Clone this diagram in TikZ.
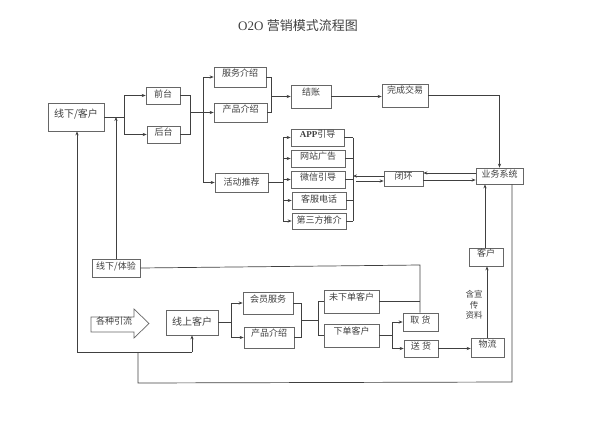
\documentclass[tikz,border=0pt]{standalone}
\usepackage{fontspec}
\setmainfont{Liberation Serif}
\newfontfamily\cjk{Noto Sans CJK SC}
\usetikzlibrary{arrows.meta}
\tikzset{
  box/.style={draw=black!60, fill=white, line width=0.7pt, inner sep=0pt,
    text height=7pt, font=\cjk\fontsize{9}{10}\selectfont, text=black!75},
  ln/.style={draw=black!75, line width=0.7pt},
  arr/.style={ln, -{Stealth[length=4pt,width=3.2pt]}},
  plain/.style={font=\cjk\fontsize{9}{10}\selectfont, text=black!75, inner sep=0pt},
}
\newcommand\bx[8][]{\node[box,minimum width={#5pt-#3pt},minimum height={#6pt-#4pt},text depth=#7pt,#1] (#2) at ({(#3+#5)/2},{(#4+#6)/2}) {#8};}
\begin{document}
\begin{tikzpicture}[x=1pt,y=-1pt]
\useasboundingbox (0,0) rectangle (600,423);
\node[plain, font=\fontsize{13}{15}\selectfont] (title) at (298,26) {O2O {\cjk 营销模式流程图}};
% boxes
\bx[font=\cjk\fontsize{10}{11}\selectfont]{xk}{48}{103}{104}{131}{7}{线下/客户}
\bx{qt}{146}{87}{180}{104}{3.5}{前台}
\bx{ht}{147}{126}{180}{143}{6}{后台}
\bx{fw}{214}{67}{266}{87}{8}{服务介绍}
\bx{cp}{214}{103}{267}{122}{7}{产品介绍}
\bx{hd}{215}{173}{268}{192}{0.4}{活动推荐}
\bx{jz}{291}{85}{331}{108}{10}{结账}
\bx{wc}{382}{84}{428}{107}{11}{完成交易}
\bx{app}{291}{129}{344}{146}{7}{{\rmfamily\bfseries APP}引导}
\bx{wz}{291}{150}{345}{167}{5.5}{网站广告}
\bx{wx}{291}{171}{345}{188}{5.5}{微信引导}
\bx{kf}{292}{192}{346}{209}{4}{客服电话}
\bx{dsf}{292}{213}{346}{229}{2.4}{第三方推介}
\bx{bh}{384}{171}{423}{186}{5}{闭环}
\bx{yw}{476}{168}{523}{184}{5}{业务系统}
\bx{kh}{469}{248}{503}{266}{9}{客户}
\bx{wl}{471}{338}{504}{357}{7}{物流}
\bx{sh}{404}{340}{438}{357}{5}{送 货}
\bx{qh}{403}{313}{438}{331}{5}{取 货}
\bx{xd}{324}{324}{379}{347}{9}{下单客户}
\bx{wxd}{324}{290}{379}{313}{9}{未下单客户}
\bx{hy}{243}{292}{293}{314}{9}{会员服务}
\bx{cp2}{244}{327}{294}{348}{9}{产品介绍}
\bx[font=\cjk\fontsize{10}{11}\selectfont]{xs}{166}{310}{218}{335}{0.4}{线上客户}
\bx{ty}{92}{259}{140}{277}{5}{线下/体验}
% big arrow
\draw[draw=black!60, fill=white, line width=0.7pt] (91,317) -- (134,317) -- (134,309) -- (149,323.5) -- (134,338) -- (134,332) -- (91,332) -- cycle;
\node[plain] (yl) at (114,321) {各种引流};
\node[plain, font=\cjk\fontsize{8.5}{10.5}\selectfont, align=center] (lbl) at (474,305) {含宣\\传\\资料};
% coordinates
\coordinate (j1) at (124,117);
\coordinate (j2) at (190,112.5);
\coordinate (b1) at (203,0);
\coordinate (j3) at (271,96.5);
\coordinate (b2) at (283,0);
\coordinate (b3) at (353,0);
\coordinate (c1) at (353,176);
\coordinate (c2) at (356,181);
\coordinate (c3) at (0,173);
\coordinate (c4) at (0,180);
\coordinate (c5) at (485,0);
\coordinate (c6) at (487,0);
\coordinate (c7) at (512,382);
\coordinate (c8) at (138,383);
\coordinate (c9) at (138,352);
\coordinate (c10) at (77,352);
\coordinate (c11) at (192,352);
\coordinate (c12) at (420,265);
\coordinate (c13) at (231,0);
\coordinate (c14) at (301,320);
\coordinate (c15) at (318,0);
\coordinate (c16) at (392,0);
% top part
\draw[ln] (xk.east) -- (j1);
\draw[ln] (j1 |- qt) -- (j1 |- ht);
\draw[arr] (j1 |- qt) -- (qt.west);
\draw[arr] (j1 |- ht) -- (ht.west);
\draw[arr] (ty.north) -- (ty.north |- j1);
\draw[ln] (qt.east) -| (j2 |- ht.east) -- (ht.east);
\draw[ln] (b1 |- fw) -- (b1 |- hd);
\draw[arr] (b1 |- fw) -- (fw.west);
\draw[arr] (j2) -- (cp.west);
\draw[arr] (b1 |- hd) -- (hd.west);
\draw[ln] (fw.east) -| (j3 |- cp.east) -- (cp.east);
\draw[arr] (j3) -- (jz.west);
\draw[arr] (jz.east) -- (jz.east -| wc.west);
\draw[arr] (wc.east) -| (yw.north);
% activities
\draw[ln] (hd.east) -- (hd.east -| b2);
\draw[ln] (b2 |- app) -- (b2 |- dsf);
\foreach \n in {app,wz,wx,kf,dsf}{
  \draw[arr] (b2 |- \n) -- (\n.west);
  \draw[ln] (\n.east) -- (\n.east -| b3);
}
\draw[ln] (b3 |- app) -- (b3 |- dsf);
\draw[arr] (bh.west |- c1) -- (c1);
\draw[arr] (c2) -- (bh.west |- c2);
\draw[arr] (yw.west |- c3) -- (bh.east |- c3);
\draw[arr] (bh.east |- c4) -- (yw.west |- c4);
% right column
\draw[arr] (kh.north -| c5) -- (yw.south -| c5);
\draw[arr] (wl.north -| c6) -- (kh.south -| c6);
\draw[arr] (sh.east) -- (sh.east -| wl.west);
% feedback loop
\draw[ln] (yw.south -| c7) -- (c7) -- (c8) -- (c9);
\draw[arr] (c11) -- (c10) -- (c10 |- xk.south);
\draw[arr] (c11) -- (c11 |- xs.south);
% offline experience
\draw[ln] (ty.east) -- (c12) -- (c12 |- qh.north);
\draw[ln] (wxd.east) -- (wxd.east -| c12);
% online part
\draw[ln] (xs.east) -- (xs.east -| c13);
\draw[ln] (c13 |- hy) -- (c13 |- cp2);
\draw[arr] (c13 |- hy) -- (hy.west);
\draw[arr] (c13 |- cp2) -- (cp2.west);
\draw[ln] (hy.east) -| (c14 |- cp2.east) -- (cp2.east);
\draw[ln] (c14) -- (c14 -| c15);
\draw[ln] (wxd.west) -| (c15 |- xd.west) -- (xd.west);
\draw[ln] (xd.east) -- (xd.east -| c16);
\draw[ln] (c16 |- qh) -- (c16 |- sh);
\draw[arr] (c16 |- qh) -- (qh.west);
\draw[arr] (c16 |- sh) -- (sh.west);
\end{tikzpicture}
\end{document}
